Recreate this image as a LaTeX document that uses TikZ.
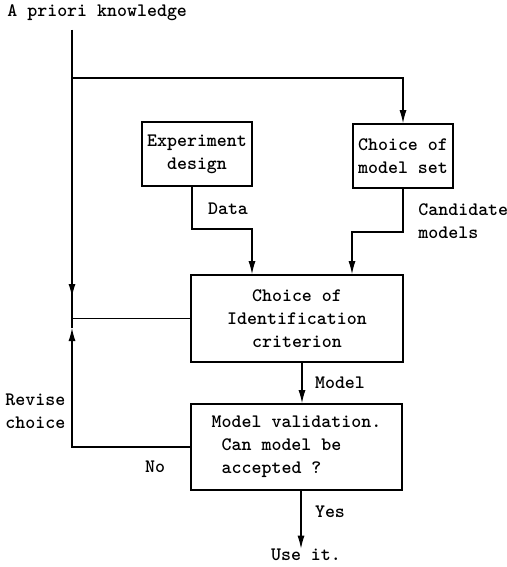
\documentclass[tikz,border=0pt]{standalone}
\usepackage{tikz}
\usetikzlibrary{arrows.meta,positioning}
\tikzset{
  procbox/.style={ draw, thick, rectangle, align=center, inner sep=2pt, font=\fontsize{9.5}{11.5}\selectfont\ttfamily\bfseries }
}
\tikzset{
  lbl/.style={ inner sep=0pt, align=left, font=\fontsize{9.5}{11.5}\selectfont\ttfamily\bfseries }
}

\begin{document}
\begin{tikzpicture}[x=0.5pt, y=-0.5pt, >={Latex[length=6.5pt,width=3.5pt]}]
      \useasboundingbox (0,0) rectangle (507,567);

      \node[lbl, anchor=west] (prior) at (7,13) {A priori knowledge};

      \node[procbox, minimum width=55pt, minimum height=32pt] (exp) at (197,154) {Experiment\\design};
      \node[procbox, minimum width=50pt, minimum height=32pt] (mset) at (403,156) {Choice of\\model set};
      \node[procbox, minimum width=106pt, minimum height=43.5pt] (crit) at (297,318.5) {Choice of\\Identification\\criterion};
      \node[procbox, minimum width=105.5pt, minimum height=43pt, align=left] (valid) at (296.5,447) {Model validation.\\\hphantom{M}Can model be\\\hphantom{M}accepted ?};
      \node[lbl] (use) at (306,555) {Use it.};

      \node[lbl] (data) at (228,209) {Data};
      \node[lbl, anchor=west] (cand) at (418,221) {Candidate\\models};
      \node[lbl] (model) at (340,383) {Model};
      \node[lbl] (yes) at (330,512) {Yes};
      \node[lbl] (no) at (155,467) {No};
      \node[lbl, anchor=west] (revise) at (5,411) {Revise\\choice};

      \coordinate (top) at (72,30);
      \coordinate (hz) at (72,78);
      \coordinate (dtip) at (72,297);
      \coordinate (utip) at (72,328);
      \coordinate (dturn) at (222,229);
      \coordinate (cturn) at (378,232);

      \begin{scope}[semithick]
        \draw (top) -- (crit.west -| top);
        \draw[->] (top) -- (dtip);
        \draw[->] (hz) -| (mset.north);

        \draw[->] ([xshift=-2.5pt]exp.south) |- (dturn) -| ([xshift=-22.5pt]crit.north);
        \draw[->] (mset.south) |- (cturn) -| ([xshift=27.5pt]crit.north);

        \draw (crit.west) -- (crit.west -| top);
        \draw[->] ([xshift=2.5pt]crit.south) -- ([xshift=2.75pt]valid.north);

        \draw[->] (valid.west) -| (utip);
        \draw (utip) -- (crit.west -| top);
        \draw[->] ([xshift=2.25pt]valid.south) -- ([xshift=-2.5pt]use.north);
      \end{scope}
    \end{tikzpicture}
\end{document}
